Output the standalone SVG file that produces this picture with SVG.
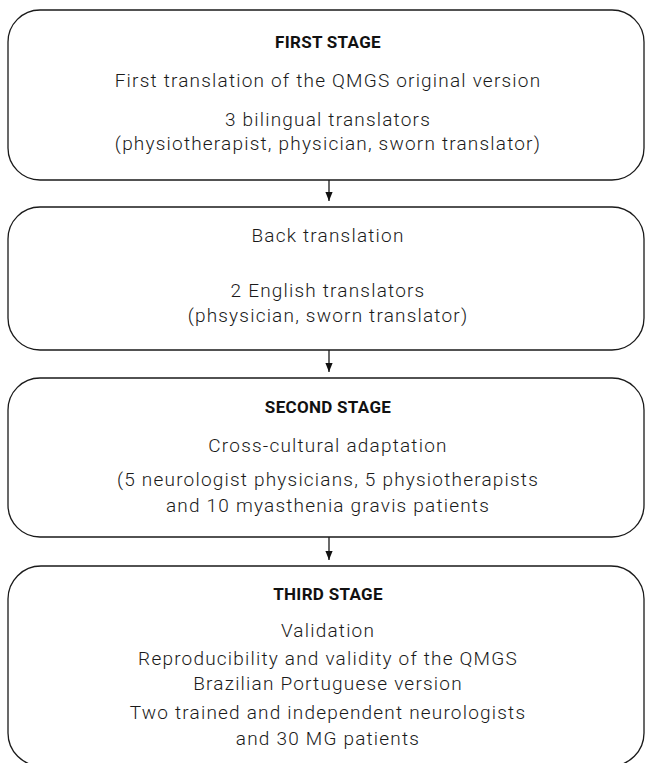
<svg xmlns="http://www.w3.org/2000/svg" width="645" height="763" viewBox="0 0 645 763">
<defs>
<style>
.box{fill:#fff;stroke:#1a1a1a;stroke-width:1.3}
.t{font-family:Roboto,"Liberation Sans",sans-serif;font-weight:300;font-size:19px;fill:#1a1a1a;text-anchor:middle;letter-spacing:1.2px}
.h{font-family:Roboto,"Liberation Sans",sans-serif;font-weight:700;font-size:17px;fill:#111;text-anchor:middle;letter-spacing:0.3px}
.c{stroke:#1a1a1a;stroke-width:1.3;fill:none}
</style>
<marker id="ah" viewBox="0 0 10 10" refX="10" refY="5" markerWidth="10" markerHeight="9" markerUnits="userSpaceOnUse" orient="auto">
<path d="M0,1 L10,5 L0,9 z" fill="#111"/>
</marker>
</defs>
<rect width="645" height="763" fill="#fff"/>
<g id="connectors">
<line class="c" x1="329" y1="180" x2="329" y2="201" marker-end="url(#ah)"/>
<line class="c" x1="329" y1="350" x2="329" y2="372" marker-end="url(#ah)"/>
<line class="c" x1="329" y1="537" x2="329" y2="560" marker-end="url(#ah)"/>
</g>
<g id="first-stage">
<rect class="box" x="8" y="10" width="636" height="170" rx="32" ry="32"/>
<text class="h" x="328" y="48">FIRST STAGE</text>
<text class="t" x="328" y="87">First translation of the QMGS original version</text>
<text class="t" x="328" y="126">3 bilingual translators</text>
<text class="t" x="328" y="150">(physiotherapist, physician, sworn translator)</text>
</g>
<g id="back-translation">
<rect class="box" x="8" y="207" width="636" height="143" rx="32" ry="32"/>
<text class="t" x="328" y="242">Back translation</text>
<text class="t" x="328" y="297">2 English translators</text>
<text class="t" x="328" y="322">(phsysician, sworn translator)</text>
</g>
<g id="second-stage">
<rect class="box" x="8" y="378" width="636" height="159" rx="32" ry="32"/>
<text class="h" x="328" y="413">SECOND STAGE</text>
<text class="t" x="328" y="452">Cross-cultural adaptation</text>
<text class="t" x="328" y="486">(5 neurologist physicians, 5 physiotherapists</text>
<text class="t" x="328" y="512">and 10 myasthenia gravis patients</text>
</g>
<g id="third-stage">
<rect class="box" x="8" y="566" width="636" height="200" rx="33" ry="33"/>
<text class="h" x="328" y="600">THIRD STAGE</text>
<text class="t" x="328" y="637">Validation</text>
<text class="t" x="328" y="665">Reproducibility and validity of the QMGS</text>
<text class="t" x="328" y="690">Brazilian Portuguese version</text>
<text class="t" x="328" y="719">Two trained and independent neurologists</text>
<text class="t" x="328" y="745">and 30 MG patients</text>
</g>
</svg>
